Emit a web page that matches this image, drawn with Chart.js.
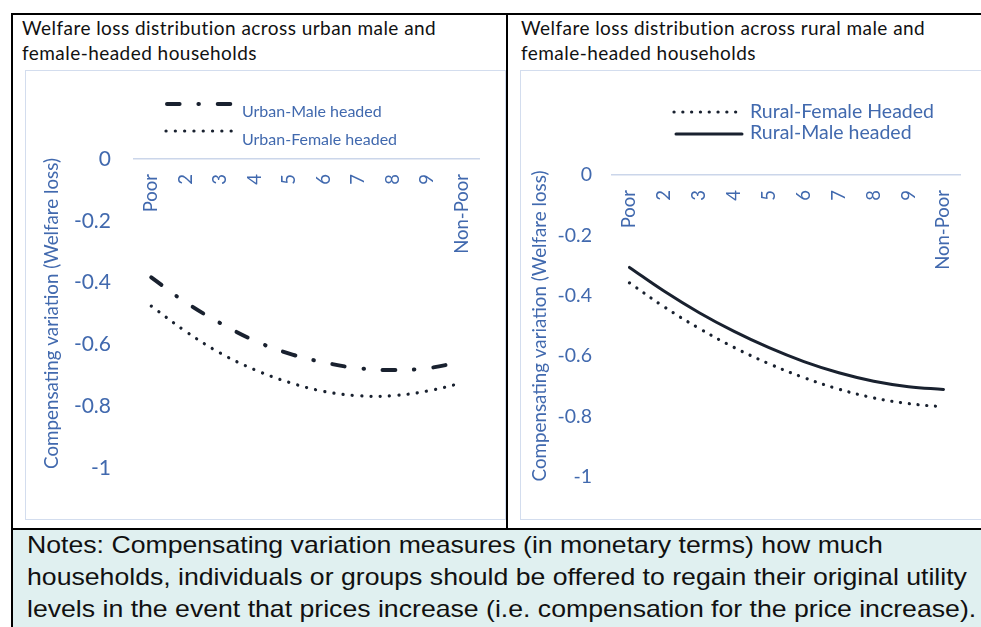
<!DOCTYPE html>
<html>
<head>
<meta charset="utf-8">
<script src="https://cdn.jsdelivr.net/npm/chart.js@4/dist/chart.umd.min.js"></script>
<style>
  html, body { margin: 0; padding: 0; background: #fff; }
  body { width: 981px; height: 627px; position: relative; overflow: hidden; font-family: Lato, "Open Sans", sans-serif; }
  .rule { position: absolute; background: #000; }
  .title { position: absolute; font-size: 19px; letter-spacing: 0.45px; line-height: 25px; color: #111; white-space: nowrap; }
  .box { position: absolute; border: 1px solid #D3DDEE; box-sizing: border-box; }
  .plot { position: absolute; }
  .notes-bg { position: absolute; left: 13px; top: 530px; width: 968px; height: 97px; background: #E0F0F0; }
  .notes { position: absolute; left: 27px; top: 529px; font-family: "Liberation Sans", Arial, sans-serif; font-size: 24px; line-height: 32px; color: #111; white-space: nowrap; transform: scaleX(1.11); transform-origin: 0 0; }
</style>
</head>
<body>
  <div class="rule" style="left:11px;top:13px;width:970px;height:2px"></div>
  <div class="rule" style="left:11px;top:13px;width:2px;height:614px"></div>
  <div class="rule" style="left:506px;top:13px;width:2px;height:516px"></div>

  <div class="title" style="left:22px;top:15px">Welfare loss distribution across urban male and<br>female-headed households</div>
  <div class="title" style="left:521px;top:15px">Welfare loss distribution across rural male and<br>female-headed households</div>

  <div class="box" style="left:25px;top:70px;width:481px;height:450px"></div>
  <div class="box" style="left:520px;top:70px;width:470px;height:450px"></div>

  <div class="plot" style="left:26px;top:71px;width:479px;height:448px"><canvas id="urban"></canvas></div>
  <div class="plot" style="left:521px;top:71px;width:460px;height:448px"><canvas id="rural"></canvas></div>

  <div class="notes-bg"></div>
  <div class="rule" style="left:11px;top:528px;width:970px;height:2px"></div>
  <div class="notes">Notes: Compensating variation measures (in monetary terms) how much<br>households, individuals or groups should be offered to regain their original utility<br>levels in the event that prices increase (i.e. compensation for the price increase).</div>

<script>
// Expenditure groups from poorest to non-poor
const categories = ['Poor', '2', '3', '4', '5', '6', '7', '8', '9', 'Non-Poor'];

// Compensating variation (welfare loss) by household head
const urbanMale   = [-0.383, -0.464, -0.531, -0.588, -0.630, -0.658, -0.677, -0.683, -0.677, -0.656];
const urbanFemale = [-0.476, -0.558, -0.628, -0.682, -0.723, -0.752, -0.766, -0.766, -0.751, -0.725];
const ruralFemale = [-0.357, -0.437, -0.508, -0.571, -0.625, -0.671, -0.709, -0.738, -0.757, -0.768];
const ruralMale   = [-0.306, -0.385, -0.456, -0.518, -0.572, -0.618, -0.655, -0.683, -0.701, -0.710];

const yAxisTitle = 'Compensating variation (Welfare loss)';
const yMin = -1, yMax = 0, yStep = 0.2;

const INK = '#19212F';
const BLUE = '#4169AE';
const AXIS = '#CBD6EA';

// Draws a short key line in each dataset's own stroke style, next to its label
const lineKey = {
  id: 'lineKey',
  afterDraw(chart, args, opts) {
    const ctx = chart.ctx;
    (opts.items || []).forEach(it => {
      const ds = chart.data.datasets[it.index];
      ctx.save();
      ctx.strokeStyle = ds.borderColor;
      ctx.lineWidth = ds.borderWidth;
      ctx.lineCap = ds.borderCapStyle || 'butt';
      ctx.setLineDash(ds.borderDash || []);
      ctx.beginPath();
      ctx.moveTo(it.x0, it.y);
      ctx.lineTo(it.x1, it.y);
      ctx.stroke();
      ctx.setLineDash([]);
      ctx.fillStyle = BLUE;
      ctx.font = opts.font;
      ctx.textAlign = 'left';
      ctx.textBaseline = 'middle';
      ctx.fillText(ds.label, it.tx, it.ty);
      ctx.restore();
    });
  }
};

function makeChart(id, datasets, cfg) {
  return new Chart(document.getElementById(id), {
    type: 'line',
    data: { labels: categories, datasets },
    plugins: [lineKey],
    options: {
      responsive: true,
      maintainAspectRatio: false,
      animation: false,
      events: [],
      layout: { padding: cfg.padding },
      elements: { point: { radius: 0 }, line: { tension: 0.4, fill: false } },
      plugins: {
        legend: { display: false },
        tooltip: { enabled: false },
        lineKey: { font: cfg.keyFont, items: cfg.keyItems }
      },
      scales: {
        x: {
          type: 'category',
          position: { y: 0 },
          offset: true,
          grid: { display: false, drawTicks: false },
          border: { display: true, color: AXIS, width: 1.6 },
          ticks: {
            autoSkip: false,
            minRotation: 90,
            maxRotation: 90,
            padding: 15,
            color: BLUE,
            font: { family: 'Lato', size: cfg.xTickSize }
          },
          afterFit: s => { s.height = 0; }
        },
        y: {
          min: yMin,
          max: yMax,
          grid: { display: false, drawTicks: false },
          border: { display: false },
          ticks: {
            stepSize: yStep,
            padding: cfg.yTickPad,
            color: BLUE,
            font: { family: 'Lato', size: cfg.yTickSize },
            callback: v => String(Number(v.toFixed(1)))
          },
          title: {
            display: true,
            text: yAxisTitle,
            color: BLUE,
            font: { family: 'Lato', size: 18.8 },
            padding: { top: cfg.titlePad, bottom: 0 }
          },
          afterFit: s => { s.width = cfg.yWidth; }
        }
      }
    }
  });
}

makeChart('urban', [
  { label: 'Urban-Male headed', data: urbanMale, borderColor: INK, borderWidth: 4,
    borderCapStyle: 'round', borderDash: [12.6, 18.8, 0.5, 18.8] },
  { label: 'Urban-Female headed', data: urbanFemale, borderColor: INK, borderWidth: 3.2,
    borderCapStyle: 'round', borderDash: [0.1, 9.2] }
], {
  padding: { top: 88, right: 26, bottom: 51, left: 0 },
  yWidth: 108, yTickPad: 23, yTickSize: 21, xTickSize: 18.5, titlePad: 15,
  keyFont: '16px Lato',
  keyItems: [
    { index: 0, x0: 141, x1: 206, y: 33, tx: 216, ty: 41 },
    { index: 1, x0: 140, x1: 207, y: 60, tx: 216, ty: 69 }
  ]
});

makeChart('rural', [
  { label: 'Rural-Female Headed', data: ruralFemale, borderColor: INK, borderWidth: 3.2,
    borderCapStyle: 'round', borderDash: [0.1, 8.7] },
  { label: 'Rural-Male headed', data: ruralMale, borderColor: INK, borderWidth: 3,
    borderCapStyle: 'round' }
], {
  padding: { top: 104, right: 6, bottom: 42, left: 0 },
  yWidth: 91, yTickPad: 20, yTickSize: 19.5, xTickSize: 18.5, titlePad: 8,
  keyFont: '19.5px Lato',
  keyItems: [
    { index: 0, x0: 153, x1: 220, y: 41, tx: 229, ty: 41 },
    { index: 1, x0: 155, x1: 221, y: 63, tx: 229, ty: 62 }
  ]
});
</script>
</body>
</html>
